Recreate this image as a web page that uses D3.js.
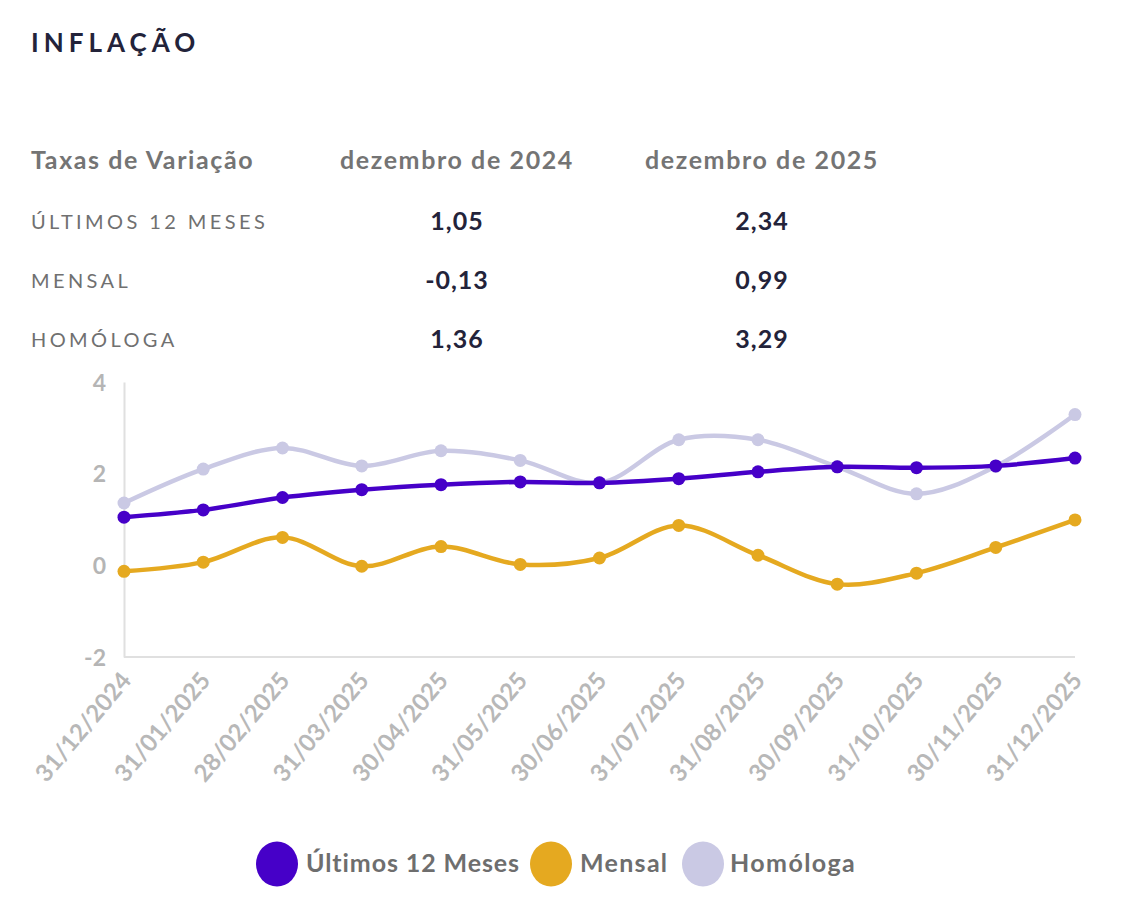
<!DOCTYPE html>
<html><head><meta charset="utf-8">
<script src="https://cdn.jsdelivr.net/npm/d3@7"></script>
<style>
html,body{margin:0;padding:0;background:#fff;}
svg{display:block;font-family:Lato,"Noto Sans",sans-serif;}
</style></head>
<body><svg id="c" width="1122" height="922"></svg>
<script>
const dates = ["31/12/2024","31/01/2025","28/02/2025","31/03/2025","30/04/2025","31/05/2025","30/06/2025","31/07/2025","31/08/2025","30/09/2025","31/10/2025","30/11/2025","31/12/2025"];
const ultimos12 = [1.05,1.21,1.48,1.65,1.76,1.82,1.80,1.89,2.04,2.15,2.13,2.17,2.34];
const mensal = [-0.13,0.07,0.61,-0.02,0.41,0.02,0.16,0.87,0.22,-0.41,-0.17,0.39,0.99];
const homologa = [1.36,2.10,2.56,2.17,2.50,2.29,1.80,2.74,2.74,2.15,1.56,2.16,3.29];
const seriesNames = ["Últimos 12 Meses","Mensal","Homóloga"];
const seriesColors = ["#4600c8","#e5a920","#cac9e4"];
const yTicks = [-2,0,2,4];
const tableHeader = ["Taxas de Variação","dezembro de 2024","dezembro de 2025"];
const tableRows = ["ÚLTIMOS 12 MESES","MENSAL","HOMÓLOGA"];
const tableDec2024 = ["1,05","-0,13","1,36"];
const tableDec2025 = ["2,34","0,99","3,29"];

const svg = d3.select("#c");

// Title
svg.append("text").attr("x",31).attr("y",52).text("INFLAÇÃO")
  .attr("font-size",26).attr("font-weight",700).attr("fill","#23233a").attr("letter-spacing","5px");

// Table
const colX = [31,457,762];
svg.append("text").attr("x",colX[0]).attr("y",169).text(tableHeader[0])
  .attr("font-size",25).attr("font-weight",700).attr("fill","#747474").attr("letter-spacing","1.6px");
[1,2].forEach(i=>svg.append("text").attr("x",colX[i]).attr("y",169).attr("text-anchor","middle")
  .text(tableHeader[i]).attr("font-size",25).attr("font-weight",700).attr("fill","#747474").attr("letter-spacing","1.6px"));
tableRows.forEach((r,i)=>{
  const y = 229 + i*59;
  svg.append("text").attr("x",colX[0]).attr("y",y).text(r)
    .attr("font-size",20).attr("font-weight",400).attr("fill","#707070").attr("letter-spacing","3.4px");
  svg.append("text").attr("x",colX[1]).attr("y",y+1).attr("text-anchor","middle").text(tableDec2024[i])
    .attr("font-size",25).attr("font-weight",700).attr("fill","#23233a").attr("letter-spacing","1px");
  svg.append("text").attr("x",colX[2]).attr("y",y+1).attr("text-anchor","middle").text(tableDec2025[i])
    .attr("font-size",25).attr("font-weight",700).attr("fill","#23233a").attr("letter-spacing","1px");
});

// Chart
const x = d3.scalePoint().domain(dates).range([124,1075]);
const y = d3.scaleLinear().domain([-2,4]).range([657,382]);

const gy = svg.append("g").attr("transform","translate(124,0)")
  .call(d3.axisLeft(y).tickValues(yTicks).tickSize(0).tickPadding(18).tickFormat(d=>String(d)));
gy.select(".domain").attr("stroke","#e0e0e0").attr("stroke-width",2);
gy.selectAll("text").attr("font-size",23).attr("font-weight",700).attr("fill","#b5b5b5")
  .attr("font-family","Lato,sans-serif").attr("dy","0.35em");

const gx = svg.append("g").attr("transform","translate(0,657)")
  .call(d3.axisBottom(x).tickSize(0).tickPadding(0));
gx.select(".domain").attr("stroke","#e0e0e0").attr("stroke-width",2).attr("d","M124,0H1075");
gx.selectAll("text").attr("font-size",24).attr("font-weight",700).attr("fill","#b8b8b8")
  .attr("font-family","Lato,sans-serif")
  .attr("text-anchor","end").attr("dy","0").attr("y",0)
  .attr("transform","translate(8,24) rotate(-50)");

const allSeries = [ultimos12, mensal, homologa];
const line = d3.line().x((d,i)=>x(dates[i])).y(d=>y(d)).curve(d3.curveCatmullRom.alpha(0.5));
[2,1,0].forEach(s=>{
  const g = svg.append("g");
  g.append("path").datum(allSeries[s]).attr("d",line).attr("fill","none")
    .attr("stroke",seriesColors[s]).attr("stroke-width",4.5).attr("stroke-linecap","round");
  g.selectAll("circle").data(allSeries[s]).join("circle")
    .attr("cx",(d,i)=>x(dates[i])).attr("cy",d=>y(d)).attr("r",6.5).attr("fill",seriesColors[s]);
});

// Legend
const legendPos = [{cx:277,tx:306,ls:0.9},{cx:551,tx:580,ls:1.3},{cx:703,tx:730,ls:1.4}];
seriesNames.forEach((n,i)=>{
  svg.append("ellipse").attr("cx",legendPos[i].cx).attr("cy",864).attr("rx",21).attr("ry",22.5).attr("fill",seriesColors[i]);
  svg.append("text").attr("x",legendPos[i].tx).attr("y",872).text(n)
    .attr("font-size",25).attr("font-weight",700).attr("fill","#6e6e6e").attr("letter-spacing",legendPos[i].ls+"px");
});
</script></body></html>
